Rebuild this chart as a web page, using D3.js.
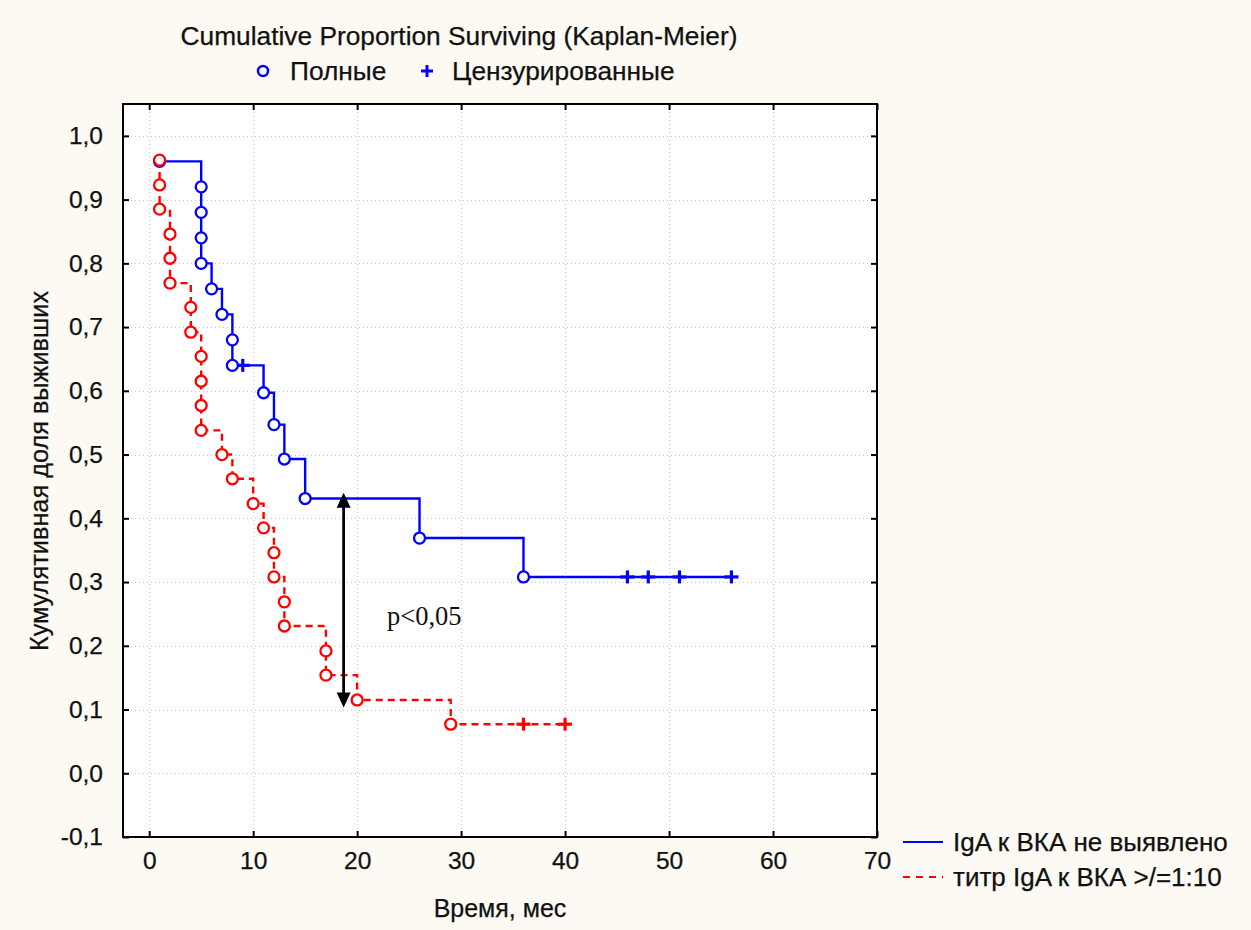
<!DOCTYPE html>
<html>
<head>
<meta charset="utf-8">
<script src="https://cdn.jsdelivr.net/npm/d3@7"></script>
<style>
  body { margin: 0; background: #fdf9f3; }
  text { font-family: "Liberation Sans", Arial, sans-serif; fill: #111; stroke: #111; stroke-width: 0.25px; }
</style>
</head>
<body>
<div id="chart"></div>
<script>
// group 1: IgA not detected (solid blue)
var blueTimes = [1, 5, 5, 5, 5, 6, 7, 8, 8, 11, 12, 13, 15, 26, 36];
var blueSurv  = [0.96, 0.92, 0.88, 0.84, 0.80, 0.76, 0.72, 0.68, 0.64, 0.597, 0.547, 0.493, 0.431, 0.369, 0.308];
var blueCensTimes = [9, 46, 48, 51, 56];
var blueCensSurv  = [0.64, 0.308, 0.308, 0.308, 0.308];

// group 2: titre >= 1:10 (dashed red)
var redTimes = [1, 1, 1, 2, 2, 2, 4, 4, 5, 5, 5, 5, 7, 8, 10, 11, 12, 12, 13, 13, 17, 17, 20, 29];
var redSurv  = [0.962, 0.923, 0.885, 0.846, 0.808, 0.769, 0.731, 0.692, 0.654, 0.615, 0.577, 0.538,
                0.500, 0.462, 0.423, 0.385, 0.346, 0.308, 0.269, 0.231, 0.192, 0.154, 0.115, 0.077];
var redCensTimes = [36, 40];
var redCensSurv  = [0.077, 0.077];

var xTicks = [0, 10, 20, 30, 40, 50, 60, 70];
var yTicks = [-0.1, 0, 0.1, 0.2, 0.3, 0.4, 0.5, 0.6, 0.7, 0.8, 0.9, 1.0];

var arrowTime = 18.7, arrowTop = 0.44, arrowBottom = 0.103;
var pLabel = "p<0,05";

var seriesNames = ["IgA к ВКА не выявлено", "титр IgA к ВКА >/=1:10"];
var blue = "#0000ff", red = "#ff0000";

var W = 1251, H = 930;
var box = {left: 123, top: 104, right: 877, bottom: 837};

var svg = d3.select('#chart').append('svg')
    .attr('width', W).attr('height', H);

svg.append('rect').attr('width', W).attr('height', H).attr('fill', '#fdf9f3');

var x = d3.scaleLinear().domain([-2.52, 70]).range([box.left, box.right]);
var y = d3.scaleLinear().domain([-0.1, 1.05]).range([box.bottom, box.top]);

svg.append('rect')
    .attr('x', box.left).attr('y', box.top)
    .attr('width', box.right - box.left).attr('height', box.bottom - box.top)
    .attr('fill', '#fff');

// dotted grid
var grid = svg.append('g').attr('stroke', '#c4c4c4').attr('stroke-dasharray', '1,3').attr('stroke-width', 1);
grid.selectAll('line.gx').data(xTicks.filter(d => d < 70)).enter().append('line')
    .attr('x1', d => x(d) + 0.5).attr('x2', d => x(d) + 0.5)
    .attr('y1', box.top).attr('y2', box.bottom);
grid.selectAll('line.gy').data(yTicks.filter(d => d > -0.1)).enter().append('line')
    .attr('y1', d => Math.round(y(d)) + 0.5).attr('y2', d => Math.round(y(d)) + 0.5)
    .attr('x1', box.left).attr('x2', box.right);

// axes with inward ticks
var fmt = d => d3.format('.1f')(d).replace('.', ',').replace('−', '-');
var axB = svg.append('g').attr('transform', 'translate(0,' + box.bottom + ')')
    .call(d3.axisBottom(x).tickValues(xTicks).tickSizeInner(-6).tickSizeOuter(0).tickPadding(15));
var axT = svg.append('g').attr('transform', 'translate(0,' + box.top + ')')
    .call(d3.axisTop(x).tickValues(xTicks).tickSizeInner(-6).tickSizeOuter(0).tickFormat(''));
var axL = svg.append('g').attr('transform', 'translate(' + box.left + ',0)')
    .call(d3.axisLeft(y).tickValues(yTicks).tickSizeInner(-6).tickSizeOuter(0).tickPadding(20).tickFormat(fmt));
var axR = svg.append('g').attr('transform', 'translate(' + box.right + ',0)')
    .call(d3.axisRight(y).tickValues(yTicks).tickSizeInner(-6).tickSizeOuter(0).tickFormat(''));
[axB, axT, axL, axR].forEach(a => {
    a.select('.domain').remove();
    a.selectAll('.tick line').attr('stroke', '#000').attr('stroke-width', 2);
    a.selectAll('text').style('font-size', '24.5px').attr('fill', '#111');
});

svg.append('rect')
    .attr('x', box.left).attr('y', box.top)
    .attr('width', box.right - box.left).attr('height', box.bottom - box.top)
    .attr('fill', 'none').attr('stroke', '#000').attr('stroke-width', 2);

// curves
var step = d3.line().x(d => x(d[0])).y(d => y(d[1])).curve(d3.curveStepAfter);

function drawGroup(times, surv, censT, censS, color, dash) {
    var pts = times.map((t, i) => [t, surv[i]]);
    var last = d3.max(censT);
    pts.push([last, surv[surv.length - 1]]);
    svg.append('path').datum(pts).attr('d', step)
        .attr('fill', 'none').attr('stroke', color).attr('stroke-width', 2.4)
        .attr('stroke-dasharray', dash);
    var cg = svg.append('g').attr('stroke', color).attr('stroke-width', 3.2);
    censT.forEach((t, i) => {
        var cx = x(t), cy = y(censS[i]);
        cg.append('line').attr('x1', cx - 7).attr('x2', cx + 7).attr('y1', cy).attr('y2', cy);
        cg.append('line').attr('x1', cx).attr('x2', cx).attr('y1', cy - 6.5).attr('y2', cy + 6.5);
    });
    svg.append('g').selectAll('circle').data(times).enter().append('circle')
        .attr('cx', d => x(d)).attr('cy', (d, i) => y(surv[i])).attr('r', 5.5)
        .attr('fill', '#fff').attr('stroke', color).attr('stroke-width', 2.3);
}

drawGroup(blueTimes, blueSurv, blueCensTimes, blueCensSurv, blue, null);
drawGroup(redTimes, redSurv, redCensTimes, redCensSurv, red, '7,5');

// arrow
var ax = x(arrowTime), y1 = y(arrowTop), y2 = y(arrowBottom);
svg.append('line').attr('x1', ax).attr('x2', ax).attr('y1', y1 + 10).attr('y2', y2 - 10)
    .attr('stroke', '#000').attr('stroke-width', 2.8);
svg.append('path').attr('d', 'M' + ax + ',' + y1 + 'L' + (ax - 7) + ',' + (y1 + 15) + 'L' + (ax + 7) + ',' + (y1 + 15) + 'Z').attr('fill', '#000');
svg.append('path').attr('d', 'M' + ax + ',' + y2 + 'L' + (ax - 7) + ',' + (y2 - 15) + 'L' + (ax + 7) + ',' + (y2 - 15) + 'Z').attr('fill', '#000');
svg.append('text').attr('x', 387).attr('y', 625).text(pLabel)
    .style('font-family', '"Liberation Serif", "Times New Roman", serif').style('font-size', '26.5px')
    .style('stroke-width', 0).attr('fill', '#000');

// titles
svg.append('text').attr('x', 459).attr('y', 45).attr('text-anchor', 'middle')
    .style('font-size', '26.3px').text('Cumulative Proportion Surviving (Kaplan-Meier)');
svg.append('circle').attr('cx', 263).attr('cy', 71).attr('r', 5)
    .attr('fill', '#fff').attr('stroke', blue).attr('stroke-width', 2.5);
svg.append('text').attr('x', 290).attr('y', 80).style('font-size', '26.3px').text('Полные');
svg.append('line').attr('x1', 421).attr('x2', 433).attr('y1', 71).attr('y2', 71).attr('stroke', blue).attr('stroke-width', 3);
svg.append('line').attr('x1', 427).attr('x2', 427).attr('y1', 65).attr('y2', 77).attr('stroke', blue).attr('stroke-width', 3);
svg.append('text').attr('x', 452).attr('y', 80).style('font-size', '26.3px').text('Цензурированные');

svg.append('text').attr('transform', 'translate(48,471) rotate(-90)').attr('text-anchor', 'middle')
    .style('font-size', '25.3px').text('Кумулятивная доля выживших');
svg.append('text').attr('x', 500).attr('y', 917).attr('text-anchor', 'middle')
    .style('font-size', '25px').text('Время, мес');

// series legend
var leg = svg.append('g');
seriesNames.forEach((name, i) => {
    var ly = 842 + i * 35;
    leg.append('line').attr('x1', 903).attr('x2', 943).attr('y1', ly).attr('y2', ly)
        .attr('stroke', i ? red : blue).attr('stroke-width', 2)
        .attr('stroke-dasharray', i ? '7,6' : null);
    leg.append('text').attr('x', 953).attr('y', ly + 9).style('font-size', '26px').text(name);
});
</script>
</body>
</html>
